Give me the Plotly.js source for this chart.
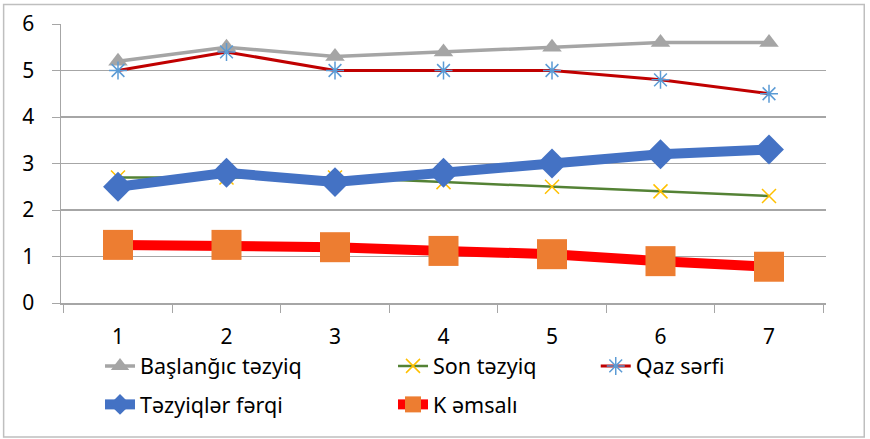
<!DOCTYPE html>
<html><head><meta charset="utf-8">
<script src="https://cdn.plot.ly/plotly-3.0.1.min.js"></script>
<style>body{margin:0;background:#fff}#c{width:870px;height:439px}</style>
</head><body><div id="c"></div>
<script>
const categories = ['1','2','3','4','5','6','7'];
const baslangic = [5.2, 5.5, 5.3, 5.4, 5.5, 5.6, 5.6];
const sonTezyiq = [2.7, 2.7, 2.7, 2.6, 2.5, 2.4, 2.3];
const qazSerfi = [5.0, 5.4, 5.0, 5.0, 5.0, 4.8, 4.5];
const tezyiqFerqi = [2.5, 2.8, 2.6, 2.8, 3.0, 3.2, 3.3];
const kEmsali = [1.25, 1.25, 1.2, 1.12, 1.05, 0.9, 0.78];
const names = ['Başlanğıc təzyiq','Son təzyiq','Qaz sərfi','Təzyiqlər fərqi','K əmsalı'];
const yTicks = [0,1,2,3,4,5,6];

const traces = [
 {x:categories,y:baslangic,name:names[0],mode:'lines+markers',legend:'legend',
  line:{color:'#a5a5a5',width:3.5},marker:{symbol:'triangle-up',size:17,color:'#a5a5a5'}},
 {x:categories,y:sonTezyiq,name:names[1],mode:'lines+markers',legend:'legend',
  line:{color:'#548235',width:2.5},marker:{symbol:'x-thin-open',size:14,color:'#ffc000',line:{color:'#ffc000',width:1.5}}},
 {x:categories,y:qazSerfi,name:names[2],mode:'lines+markers',legend:'legend3',
  line:{color:'#c00000',width:3},marker:{symbol:'asterisk-open',size:15,color:'#5b9bd5',line:{color:'#5b9bd5',width:1.5}}},
 {x:categories,y:tezyiqFerqi,name:names[3],mode:'lines+markers',legend:'legend2',
  line:{color:'#4472c4',width:10},marker:{symbol:'diamond',size:23,color:'#4472c4'}},
 {x:categories,y:kEmsali,name:names[4],mode:'lines+markers',legend:'legend2',
  line:{color:'#ff0000',width:10},marker:{symbol:'square',size:30,color:'#ed7d31'}}
];
const fam = '"Noto Sans", "Open Sans", sans-serif';
const font = {family:fam, size:21.5, color:'#000'};
const legRow1 = -0.152, legRow2 = -0.29;
const layout = {
 width:870,height:439,
 margin:{l:61,r:44,t:24,b:136},
 paper_bgcolor:'#fff',plot_bgcolor:'#fff',
 font:font,
 showlegend:true,
 xaxis:{type:'category',tickson:'boundaries',ticks:'outside',ticklen:8,tickcolor:'#a6a6a6',
   showgrid:false,showline:true,linecolor:'#a6a6a6',linewidth:1.5,
   tickfont:{family:fam,size:21,color:'#000'},zeroline:false,ticklabelstandoff:14},
 yaxis:{range:[0,6],tickvals:yTicks,ticks:'outside',ticklen:8,tickcolor:'#a6a6a6',
   showgrid:true,gridcolor:'#a6a6a6',gridwidth:1.2,showline:true,linecolor:'#a6a6a6',linewidth:1.5,
   tickfont:{family:fam,size:21,color:'#000'},zeroline:false,ticklabelstandoff:13},
 legend:{orientation:'h',x:0.051,xanchor:'left',y:legRow1,yanchor:'top',entrywidth:248,
   font:font,bgcolor:'rgba(0,0,0,0)'},
 legend3:{orientation:'h',x:0.699,xanchor:'left',y:legRow1,yanchor:'top',
   font:font,bgcolor:'rgba(0,0,0,0)'},
 legend2:{orientation:'h',x:0.051,xanchor:'left',y:legRow2,yanchor:'top',entrywidth:248,
   font:font,bgcolor:'rgba(0,0,0,0)'},
 shapes:[{type:'rect',xref:'paper',yref:'paper',x0:-0.075,x1:1.05,y0:-0.48,y1:1.07,
   line:{color:'#bfbfbf',width:1.5}}]
};
Plotly.newPlot('c',traces,layout,{displayModeBar:false,staticPlot:true});
</script></body></html>
